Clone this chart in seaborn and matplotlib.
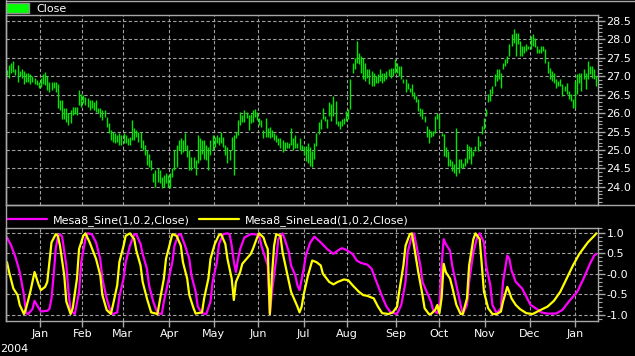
import numpy as np
import matplotlib
matplotlib.use("Agg")
import matplotlib.pyplot as plt
from matplotlib.patches import Patch
from matplotlib.lines import Line2D
from matplotlib.ticker import MultipleLocator, FixedLocator, FixedFormatter
import seaborn as sns

# daily high / low of the price bars (trading-day index 0..278)
high = [27.17, 27.30, 27.35, 27.42, 27.20, 27.30, 27.15, 27.20, 27.15, 27.10,
        27.10, 27.07, 27.00, 26.94, 26.90, 26.85, 26.94, 27.07, 27.12, 27.00,
        26.85, 26.85, 26.85, 26.85, 26.78, 26.35, 26.35, 26.13, 26.13, 26.00,
        26.08, 26.17, 26.17, 26.17, 26.62, 26.53, 26.50, 26.45, 26.40, 26.35,
        26.35, 26.30, 26.35, 26.13, 26.13, 26.08, 26.08, 25.90, 25.72, 25.54,
        25.50, 25.45, 25.41, 25.45, 25.41, 25.45, 25.41, 25.32, 25.36, 25.81,
        25.59, 25.54, 25.50, 25.50, 25.27, 25.14, 25.00, 24.90, 24.73, 24.37,
        24.46, 24.50, 24.46, 24.28, 24.32, 24.37, 24.32, 24.37, 24.50, 25.00,
        25.14, 25.27, 25.32, 25.27, 25.45, 25.14, 25.00, 24.82, 24.82, 24.73,
        25.41, 25.32, 25.27, 25.27, 25.14, 25.09, 25.27, 25.41, 25.36, 25.41,
        25.36, 25.50, 25.36, 25.14, 25.09, 25.00, 25.36, 25.41, 25.50, 25.81,
        26.03, 25.95, 26.08, 26.03, 25.95, 25.99, 26.08, 26.10, 26.03, 25.86,
        25.81, 25.54, 25.86, 25.59, 25.63, 25.54, 25.45, 25.41, 25.32, 25.32,
        25.27, 25.23, 25.23, 25.18, 25.59, 25.32, 25.41, 25.18, 25.32, 25.14,
        25.09, 25.10, 25.18, 25.07, 24.98, 25.20, 25.47, 25.75, 25.83, 26.15,
        25.92, 25.83, 26.29, 26.24, 26.47, 26.33, 25.79, 25.79, 25.83, 25.88,
        26.06, 26.10, 26.92, 27.37, 27.50, 27.96, 27.64, 27.55, 27.50, 27.37,
        27.19, 27.19, 27.15, 27.10, 27.01, 27.06, 27.19, 27.10, 27.10, 27.15,
        27.19, 27.23, 27.23, 27.46, 27.37, 27.28, 27.28, 26.92, 26.92, 26.83,
        26.69, 26.78, 26.56, 26.47, 26.38, 26.15, 26.10, 25.92, 25.65, 25.56,
        25.52, 25.52, 25.92, 26.00, 25.97, 25.47, 25.43, 25.07, 24.98, 24.75,
        24.70, 24.61, 25.61, 24.75, 24.75, 24.66, 24.79, 25.16, 25.11, 25.07,
        24.98, 25.11, 25.38, 25.25, 25.65, 25.88, 26.10, 26.51, 26.65, 26.74,
        27.06, 27.19, 27.19, 27.10, 27.37, 27.46, 27.55, 27.87, 28.14, 28.27,
        28.18, 28.18, 27.96, 27.82, 27.82, 27.87, 27.82, 28.09, 28.14, 28.05,
        27.82, 27.73, 27.82, 27.82, 27.73, 27.41, 27.23, 27.15, 27.10, 26.92,
        26.87, 26.92, 26.78, 26.74, 26.83, 26.60, 26.51, 26.38, 26.87, 27.06,
        27.10, 27.10, 27.19, 27.10, 27.42, 27.28, 27.28, 27.19, 27.01]
low = [27.03, 26.94, 27.08, 27.12, 27.03, 26.85, 27.00, 26.95, 26.80, 26.85,
       26.85, 26.80, 26.85, 26.80, 26.76, 26.67, 26.72, 26.80, 26.76, 26.62,
       26.58, 26.62, 26.67, 26.58, 26.13, 26.08, 25.85, 25.85, 25.77, 25.68,
       25.72, 25.95, 25.99, 25.95, 26.22, 26.17, 26.27, 26.22, 26.17, 26.08,
       26.13, 26.08, 26.04, 26.00, 25.90, 25.81, 25.90, 25.63, 25.45, 25.27,
       25.23, 25.18, 25.23, 25.14, 25.14, 25.18, 25.18, 25.14, 25.14, 25.27,
       25.27, 25.36, 25.23, 25.05, 25.00, 24.86, 24.60, 24.55, 24.46, 24.14,
       24.00, 24.14, 24.10, 23.96, 24.00, 24.10, 24.00, 23.96, 24.28, 24.46,
       24.55, 25.00, 24.90, 24.95, 25.00, 24.82, 24.46, 24.46, 24.50, 24.32,
       24.64, 24.73, 24.90, 24.77, 24.73, 24.46, 24.86, 25.00, 25.09, 25.18,
       25.14, 25.18, 25.09, 24.86, 24.64, 24.73, 25.00, 24.32, 25.32, 25.41,
       25.68, 25.77, 25.77, 25.86, 25.54, 25.72, 25.77, 25.90, 25.81, 25.68,
       25.63, 25.32, 25.36, 25.36, 25.32, 25.36, 25.27, 25.23, 25.14, 25.05,
       24.95, 25.00, 25.05, 25.05, 25.14, 25.00, 25.05, 25.05, 25.00, 25.00,
       24.86, 24.70, 24.64, 24.57, 24.53, 24.75, 25.11, 25.43, 25.56, 25.83,
       25.79, 25.61, 25.93, 25.79, 25.93, 25.70, 25.65, 25.56, 25.65, 25.70,
       25.79, 25.83, 26.10, 27.10, 27.19, 27.37, 27.33, 27.10, 26.92, 26.87,
       26.96, 26.78, 26.74, 26.74, 26.83, 26.83, 26.87, 26.83, 26.87, 26.92,
       27.01, 26.96, 27.01, 27.10, 27.10, 27.01, 26.92, 26.83, 26.56, 26.65,
       26.56, 26.47, 26.38, 26.29, 26.06, 25.93, 25.83, 25.75, 25.34, 25.20,
       25.34, 25.38, 25.47, 25.83, 25.56, 25.38, 24.84, 24.80, 24.57, 24.57,
       24.43, 24.39, 24.30, 24.39, 24.52, 24.52, 24.57, 24.66, 24.75, 24.61,
       24.84, 24.98, 24.98, 25.11, 25.43, 25.56, 25.93, 26.29, 26.33, 26.51,
       26.74, 26.87, 26.92, 26.69, 27.19, 27.28, 27.37, 27.55, 27.82, 27.91,
       27.55, 27.87, 27.55, 27.55, 27.64, 27.69, 27.73, 27.73, 27.82, 27.78,
       27.64, 27.64, 27.64, 27.69, 27.37, 27.10, 26.92, 26.87, 26.83, 26.69,
       26.74, 26.74, 26.47, 26.60, 26.51, 26.38, 26.33, 26.15, 26.15, 26.51,
       26.83, 26.60, 26.92, 26.65, 26.92, 27.06, 26.96, 26.92, 26.74]

# Mesa8_Sine, read at trading-day positions
sine_days = [0, 2, 4, 6, 8, 9, 10, 12, 13, 15, 16, 19, 20, 21, 22, 23, 24, 25, 26, 27,
             28, 29, 30, 32, 34, 35, 37, 38, 40, 42, 44, 45, 47, 49, 50, 52, 53, 55, 56, 58,
             60, 61, 63, 64, 66, 67, 69, 71, 73, 74, 76, 78, 79, 81, 82, 84, 86, 87, 89, 90,
             92, 94, 96, 97, 99, 100, 102, 104, 105, 106, 107, 108, 109, 110, 112, 115, 117, 119, 120, 122,
             123, 124, 125, 127, 128, 130, 131, 133, 134, 136, 137, 138, 140, 141, 143, 145, 148, 151, 154, 156,
             158, 160, 163, 165, 167, 170, 172, 174, 177, 179, 181, 184, 186, 188, 189, 191, 192, 193, 195, 196,
             198, 200, 201, 203, 204, 205, 206, 207, 209, 210, 212, 214, 215, 217, 218, 220, 222, 223, 225, 226,
             228, 229, 231, 233, 234, 236, 237, 238, 240, 243, 245, 247, 250, 252, 255, 259, 262, 265, 269, 272,
             275, 277, 278]
sine_vals = [0.88, 0.68, 0.40, 0.04, -0.52, -0.96, -0.98, -0.86, -0.66, -0.84, -0.92, -0.90, -0.86, -0.60, -0.04, 0.60, 0.90, 0.96, 0.90, 0.55,
             0.20, -0.44, -0.90, -0.98, -0.44, 0.28, 0.84, 0.98, 0.96, 0.76, 0.36, -0.12, -0.60, -0.94, -0.98, -0.94, -0.56, -0.12, 0.28, 0.68,
             0.96, 0.96, 0.72, 0.48, 0.12, -0.28, -0.68, -0.96, -0.98, -0.68, -0.20, 0.28, 0.68, 0.96, 0.96, 0.68, 0.36, -0.04, -0.44, -0.80,
             -0.96, -0.98, -0.68, -0.20, 0.28, 0.72, 0.96, 0.98, 0.96, 0.68, 0.30, 0.04, 0.36, 0.60, 0.88, 0.96, 0.96, 0.92, 0.68, 0.36,
             0.20, -0.98, -0.44, 0.36, 0.84, 0.98, 0.84, 0.52, 0.20, -0.04, -0.28, -0.40, 0.12, 0.45, 0.75, 0.90, 0.76, 0.60, 0.48, 0.56,
             0.62, 0.58, 0.48, 0.32, 0.26, 0.22, 0.12, -0.16, -0.56, -0.80, -0.94, -0.98, -0.76, -0.20, 0.52, 0.92, 0.98, 0.72, 0.20, -0.20,
             -0.44, -0.68, -0.88, -0.96, -0.76, 0.20, 0.84, 0.72, 0.56, 0.20, -0.28, -0.76, -0.98, -0.76, -0.20, 0.52, 0.92, 0.98, 0.76, 0.20,
             -0.28, -0.76, -0.96, -0.84, -0.20, 0.44, 0.36, 0.08, -0.20, -0.36, -0.56, -0.76, -0.86, -0.94, -0.97, -0.97, -0.88, -0.68, -0.44, -0.12,
             0.24, 0.44, 0.48]

# Mesa8_SineLead
lead_days = [0, 1, 3, 5, 6, 8, 9, 11, 13, 15, 16, 18, 19, 20, 21, 23, 24, 25, 27, 28,
             30, 31, 33, 34, 36, 37, 39, 42, 44, 45, 47, 49, 50, 52, 53, 55, 56, 58, 60, 61,
             63, 64, 66, 68, 71, 72, 74, 75, 77, 78, 80, 82, 83, 85, 86, 88, 89, 92, 93, 95,
             96, 98, 100, 101, 103, 104, 106, 107, 108, 110, 111, 113, 115, 116, 118, 119, 121, 122, 123, 124,
             125, 126, 127, 129, 130, 132, 134, 137, 138, 139, 140, 142, 144, 146, 148, 149, 152, 154, 156, 159,
             161, 163, 166, 168, 170, 173, 175, 177, 180, 182, 184, 185, 187, 188, 190, 191, 192, 194, 196, 197,
             199, 200, 202, 203, 204, 205, 206, 207, 209, 210, 212, 214, 215, 217, 218, 220, 221, 223, 224, 225,
             227, 229, 231, 233, 234, 236, 237, 238, 240, 242, 245, 248, 251, 255, 258, 261, 264, 267, 270, 274,
             277, 278]
lead_vals = [0.28, 0.04, -0.36, -0.52, -0.76, -0.98, -0.84, -0.44, 0.04, -0.28, -0.40, -0.32, -0.20, 0.28, 0.76, 0.96, 0.92, 0.68, -0.04, -0.68,
             -0.98, -0.84, -0.12, 0.60, 0.92, 0.98, 0.76, 0.36, -0.04, -0.52, -0.88, -0.98, -0.76, -0.28, 0.28, 0.68, 0.92, 0.98, 0.84, 0.56,
             0.20, -0.20, -0.60, -0.94, -0.98, -0.68, -0.12, 0.36, 0.76, 0.96, 0.92, 0.68, 0.28, -0.12, -0.52, -0.84, -0.97, -0.94, -0.60, -0.12,
             0.36, 0.72, 0.94, 0.96, 0.72, 0.36, -0.12, -0.64, -0.20, 0.04, 0.24, 0.36, 0.48, 0.60, 0.88, 0.98, 0.88, 0.72, 0.60, -0.98,
             -0.04, 0.68, 0.96, 0.92, 0.52, 0.04, -0.44, -0.80, -0.94, -0.80, -0.50, -0.04, 0.32, 0.28, 0.20, 0.00, -0.20, -0.26, -0.20, -0.14,
             -0.16, -0.28, -0.44, -0.52, -0.54, -0.60, -0.80, -0.96, -0.98, -0.94, -0.80, -0.44, 0.20, 0.68, 0.96, 0.98, 0.68, 0.04, -0.52, -0.84,
             -0.98, -0.98, -0.88, -0.76, -0.96, -0.60, 0.24, 0.04, -0.12, -0.32, -0.76, -0.98, -0.98, -0.60, 0.20, 0.84, 0.98, 0.84, 0.20, -0.44,
             -0.84, -0.98, -0.98, -0.92, -0.68, -0.32, -0.45, -0.60, -0.76, -0.86, -0.96, -0.98, -0.90, -0.80, -0.66, -0.44, -0.12, 0.20, 0.48, 0.76,
             0.92, 0.98]

# month gridlines, in trading-day units
month_pos = [15.5, 35.5, 54.5, 76.5, 97.5, 118.5, 140, 160.5, 183.5, 204, 225.5, 246.5, 268]
month_labels = ['Jan', 'Feb', 'Mar', 'Apr', 'May', 'Jun', 'Jul',
                'Aug', 'Sep', 'Oct', 'Nov', 'Dec', 'Jan']
osc_ticks = [-1.0, -0.5, 0.0, 0.5, 1.0]
osc_tick_labels = ['-1.0', '-0.5', '-0.0', '0.5', '1.0']

sns.set_theme(style='dark', rc={
    'figure.facecolor': 'black', 'axes.facecolor': 'black',
    'axes.edgecolor': '#a8a8a8', 'axes.linewidth': 1.0,
    'text.color': 'white', 'xtick.color': 'white', 'ytick.color': 'white',
})
plt.rcParams['font.family'] = ['DejaVu Sans']

W, H = 635, 356
fig = plt.figure(figsize=(W / 100, H / 100), dpi=100)
ax1 = fig.add_axes([6 / W, 1 - 205 / H, 592 / W, 190 / H])
ax2 = fig.add_axes([6 / W, 1 - 321 / H, 592 / W, 93 / H])

GRID = dict(color='#a0a0a0', linestyle=(0, (3, 2)), linewidth=0.8)

# price bars
days = np.arange(len(high))
ax1.vlines(days, low, high, color='#00e800', lw=1.0)
ax1.set_ylim(23.51, 28.66)
ax1.yaxis.set_major_locator(FixedLocator(np.arange(24.0, 28.51, 0.5)))
ax1.yaxis.set_minor_locator(MultipleLocator(0.1))
ax1.yaxis.set_major_formatter(FixedFormatter([f'{v:.1f}' for v in np.arange(24.0, 28.51, 0.5)]))
ax1.legend(handles=[Patch(facecolor='#00ff00', edgecolor='#909090')], labels=['Close'],
           loc='lower left', bbox_to_anchor=(-0.002, 1.0), frameon=False,
           handlelength=2.1, handleheight=1.0, handletextpad=0.6,
           borderpad=0.1, borderaxespad=0, fontsize=8, labelcolor='white')

# oscillators
sns.lineplot(x=sine_days, y=sine_vals, ax=ax2, color='#ff00ff', lw=1.6,
             estimator=None, label='Mesa8_Sine(1,0.2,Close)')
sns.lineplot(x=lead_days, y=lead_vals, ax=ax2, color='#ffff00', lw=1.6,
             estimator=None, label='Mesa8_SineLead(1,0.2,Close)')
ax2.set_ylim(-1.15, 1.11)
ax2.yaxis.set_major_locator(FixedLocator(osc_ticks))
ax2.yaxis.set_major_formatter(FixedFormatter(osc_tick_labels))
ax2.yaxis.set_minor_locator(MultipleLocator(0.1))
ax2.legend(loc='lower left', bbox_to_anchor=(-0.002, 1.0), ncol=2, frameon=False,
           handlelength=3.6, handletextpad=0.5, columnspacing=0.9,
           borderpad=0.2, borderaxespad=0, fontsize=8, labelcolor='white')

for ax in (ax1, ax2):
    ax.set_xlim(-0.47, 278.8)
    ax.set_xticks(month_pos)
    ax.yaxis.tick_right()
    ax.tick_params(axis='y', which='major', length=5, width=1, color='#a8a8a8',
                   labelsize=8, labelcolor='white', pad=1, right=True, left=False)
    ax.tick_params(axis='y', which='minor', length=3, width=0.8, color='#a8a8a8',
                   right=True, left=False)
    ax.grid(True, which='major', **GRID)
    ax.set_xlabel('')
    ax.set_ylabel('')
    for s in ax.spines.values():
        s.set_visible(True)
        s.set_color('#a8a8a8')

ax1.tick_params(axis='x', length=0, labelbottom=False)
ax2.set_xticklabels(month_labels)
ax2.tick_params(axis='x', length=4, width=1, color='#a8a8a8', labelsize=8,
                labelcolor='white', pad=2, bottom=True)

fig.text(0.0, 1 - 349 / H, '2004', fontsize=8, color='white', va='center', ha='left')
# outer frame of the two panes
fig.add_artist(Line2D([6 / W, 1], [1 - 0.5 / H, 1 - 0.5 / H], color='#a8a8a8', lw=1))
fig.add_artist(Line2D([6 / W, 1], [1 - 205 / H, 1 - 205 / H], color='#a8a8a8', lw=1))
fig.add_artist(Line2D([6 / W, 6 / W], [1 - 321 / H, 1], color='#a8a8a8', lw=1))

fig.savefig('out.png', dpi=100, facecolor='black')
